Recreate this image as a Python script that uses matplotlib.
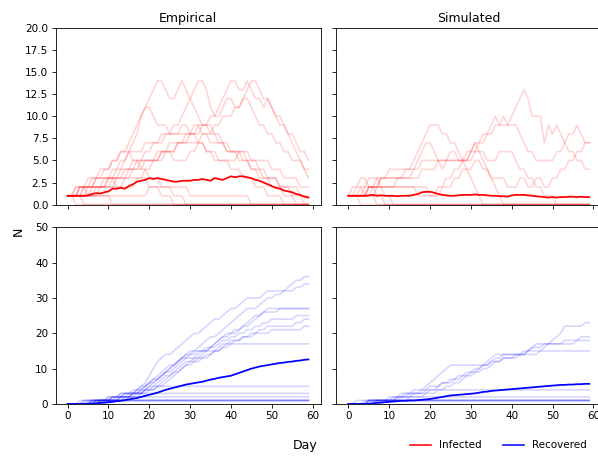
import matplotlib.pyplot as plt
from matplotlib.lines import Line2D
from matplotlib.ticker import MultipleLocator
import numpy as np

days = np.arange(60)

# --- infected, empirical runs (faint) ---
emp_inf_runs = [
    [1,1,1,1,2,2,2,3,3,3, 3,4,4,5,5,6,7,8,10,11, 12,13,14,14,13,12,12,13,14,13,
     12,11,10,9,9,8,8,7,7,6, 6,6,5,5,5,4,4,3,3,3, 2,2,2,1,1,1,0,0,0,0],
    [1,1,1,1,1,1,2,2,2,2, 3,3,3,3,4,4,5,5,5,6, 6,7,7,8,8,8,9,9,10,11,
     12,13,14,14,13,11,10,10,11,12, 12,11,11,12,12,11,10,9,9,8, 8,7,7,6,6,5,5,5,4,4],
    [1,1,1,1,1,2,2,2,2,2, 2,2,3,3,3,3,4,4,4,5, 5,5,6,6,6,7,7,7,7,8,
     8,8,9,9,9,10,10,11,12,13, 14,14,13,13,14,13,12,12,11,12, 11,10,9,9,8,7,6,5,4,3],
    [1,1,1,1,1,1,1,2,2,2, 2,3,3,3,3,4,4,4,5,5, 5,5,5,6,6,6,6,7,7,7,
     7,7,7,8,8,8,9,9,10,10, 10,11,11,12,13,14,14,13,12,12, 11,10,10,9,8,8,7,6,6,5],
    [1,1,2,2,2,2,3,3,3,4, 4,5,5,6,6,7,8,9,10,11, 11,10,9,9,9,8,8,8,9,9,
     8,8,7,7,6,6,6,5,5,5, 4,4,4,3,3,3,2,2,2,1, 1,1,1,0,0,0,0,0,0,0],
    [1,1,1,2,2,2,2,3,3,3, 3,3,4,4,5,6,6,6,6,7, 7,7,7,7,8,8,8,8,8,8,
     8,9,9,8,8,7,7,7,7,6, 6,6,6,6,6,5,5,5,5,5, 4,4,4,3,3,3,3,2,2,2],
    [1,1,1,1,2,2,2,2,2,2, 3,3,3,4,4,4,4,5,5,5, 5,5,5,6,6,6,5,5,5,5,
     6,6,7,7,6,6,5,5,5,5, 5,5,6,6,5,5,5,4,4,3, 3,3,2,2,2,1,1,1,0,0],
    [1,1,1,1,1,1,1,1,2,2, 2,2,2,2,3,3,3,3,3,4, 4,5,5,5,6,6,6,7,7,7,
     8,8,8,9,9,9,8,8,7,7, 6,6,6,5,5,4,4,4,3,3, 3,3,2,2,2,2,2,1,1,1],
    [1,1,1,2,2,2,2,2,2,3, 3,3,2,2,2,2,2,3,3,3, 2,2,2,1,1,1,0,0,0,0,
     0,0,0,0,0,0,0,0,0,0, 0,0,0,0,0,0,0,0,0,0, 0,0,0,0,0,0,0,0,0,0],
    [1,1,1,2,2,3,3,3,4,4, 4,5,5,6,6,6,5,5,4,4, 3,3,3,2,2,2,1,1,1,0,
     0,0,0,0,0,0,0,0,0,0, 0,0,0,0,0,0,0,0,0,0, 0,0,0,0,0,0,0,0,0,0],
    [1,1,1,1,1,1,1,1,1,1, 1,1,1,1,1,1,1,1,1,1, 2,2,2,2,2,2,2,2,2,2,
     1,1,1,1,1,1,1,1,1,1, 1,1,1,1,1,0,0,0,0,0, 0,0,0,0,0,0,0,0,0,0],
    [1,1,2,2,2,1,1,1,1,1, 1,0,0,0,0,0,0,0,0,0, 0,0,0,0,0,0,0,0,0,0,
     0,0,0,0,0,0,0,0,0,0, 0,0,0,0,0,0,0,0,0,0, 0,0,0,0,0,0,0,0,0,0],
    [1,1,1,1,0,0,0,0,0,0, 0,0,0,0,0,0,0,0,0,0, 0,0,0,0,0,0,0,0,0,0,
     0,0,0,0,0,0,0,0,0,0, 0,0,0,0,0,0,0,0,0,0, 0,0,0,0,0,0,0,0,0,0],
    [1,1,0,0,0,0,0,0,0,0, 0,0,0,0,0,0,0,0,0,0, 0,0,0,0,0,0,0,0,0,0,
     0,0,0,0,0,0,0,0,0,0, 0,0,0,0,0,0,0,0,0,0, 0,0,0,0,0,0,0,0,0,0],
]
emp_inf_mean = [1.0,1.0,1.0,1.0,1.0,1.05,1.2,1.3,1.25,1.4,
                1.5,1.8,1.8,1.9,1.8,2.1,2.3,2.6,2.7,2.8,
                3.0,2.9,3.0,2.9,2.8,2.7,2.6,2.6,2.7,2.7,
                2.7,2.8,2.8,2.9,2.8,2.7,3.0,2.9,2.8,3.0,
                3.2,3.1,3.2,3.2,3.1,3.0,2.8,2.7,2.5,2.3,
                2.1,1.9,1.8,1.6,1.5,1.4,1.2,1.1,0.9,0.8]

# --- infected, simulated runs (faint) ---
sim_inf_runs = [
    [1,1,1,1,1,1,2,2,2,2, 2,2,2,2,2,2,2,1,1,1, 1,1,2,2,3,3,4,4,5,5,
     6,7,7,8,8,9,10,9,10,9, 10,11,12,13,12,10,10,10,7,9, 8,9,8,7,6,6,5,5,4,4],
    [1,1,1,1,1,2,2,2,3,3, 3,3,3,3,3,3,3,3,4,4, 4,4,5,5,5,5,5,5,5,6,
     6,6,7,7,8,8,9,9,9,9, 9,9,8,7,6,6,5,5,5,5, 5,6,6,7,8,8,9,8,7,7],
    [1,1,1,1,1,2,2,3,2,2, 2,2,3,3,4,4,5,6,7,8, 9,9,9,8,8,7,7,6,5,4,
     3,2,1,0,0,0,0,0,0,0, 0,0,0,0,0,0,0,0,0,0, 0,0,0,0,0,0,0,0,0,0],
    [1,1,1,2,2,3,3,3,3,3, 3,3,3,3,3,3,4,5,6,7, 7,6,5,4,5,6,6,5,5,5,
     6,7,6,5,4,3,2,1,0,0, 0,0,0,0,0,0,0,0,0,0, 0,0,0,0,0,0,0,0,0,0],
    [1,1,1,1,1,2,2,2,3,3, 4,4,4,4,4,4,4,4,5,5, 5,5,5,5,5,5,5,5,5,5,
     5,6,6,6,5,5,5,6,6,6, 6,5,4,4,3,3,2,2,1,1, 1,0,0,0,0,0,0,0,0,0],
    [1,1,1,1,2,2,2,2,2,2, 2,2,2,2,2,2,2,2,2,2, 1,1,1,2,2,2,3,3,4,4,
     4,5,5,4,4,3,3,3,3,2, 2,2,3,3,2,2,3,3,2,2, 3,3,4,4,5,5,6,6,7,7],
    [1,1,2,2,1,1,1,2,2,1, 1,0,0,0,0,0,0,0,0,0, 0,0,0,0,0,0,0,0,0,0,
     0,0,0,0,0,0,0,0,0,0, 0,0,0,0,0,0,0,0,0,0, 0,0,0,0,0,0,0,0,0,0],
    [1,2,2,3,3,2,2,1,1,0, 0,0,0,0,0,0,0,0,0,0, 0,0,0,0,0,0,0,0,0,0,
     0,0,0,0,0,0,0,0,0,0, 0,0,0,0,0,0,0,0,0,0, 0,0,0,0,0,0,0,0,0,0],
    [1,1,1,1,1,1,1,0,0,0, 0,0,0,0,0,0,0,0,0,0, 0,0,0,0,0,0,0,0,0,0,
     0,0,0,0,0,0,0,0,0,0, 0,0,0,0,0,0,0,0,0,0, 0,0,0,0,0,0,0,0,0,0],
    [1,1,1,0,0,0,0,0,0,0, 0,0,0,0,0,0,0,0,0,0, 0,0,0,0,0,0,0,0,0,0,
     0,0,0,0,0,0,0,0,0,0, 0,0,0,0,0,0,0,0,0,0, 0,0,0,0,0,0,0,0,0,0],
]
sim_inf_mean = [1.0,1.0,1.0,1.0,1.0,1.05,1.1,1.0,1.05,1.0,
                1.0,1.0,0.95,1.0,1.0,1.0,1.1,1.2,1.4,1.45,
                1.45,1.35,1.2,1.1,1.05,1.0,1.0,1.05,1.1,1.1,
                1.1,1.15,1.1,1.1,1.05,1.0,1.0,0.95,0.95,0.9,
                1.05,1.1,1.1,1.1,1.05,1.0,0.95,0.9,0.85,0.8,
                0.85,0.8,0.85,0.85,0.9,0.9,0.85,0.9,0.85,0.85]

# --- recovered, empirical runs (faint) ---
emp_rec_runs = [
    [0,0,0,0,1,1,1,1,1,1, 2,2,2,3,3,3,3,4,5,6, 8,10,12,13,14,14,15,16,17,18,
     19,20,20,21,22,23,24,24,25,26, 27,27,28,29,30,30,30,30,31,32, 32,32,32,32,33,34,35,35,36,36],
    [0,0,0,0,0,0,1,1,1,1, 1,2,2,2,2,3,3,3,4,5, 6,7,8,9,10,11,11,12,13,14,
     14,15,16,17,18,19,19,20,21,22, 23,24,25,26,27,27,27,28,29,30, 30,31,31,32,32,32,33,33,34,34],
    [0,0,0,0,0,0,0,1,1,1, 1,1,2,2,3,3,4,4,5,5, 6,7,7,8,9,9,10,11,12,13,
     14,14,15,15,16,16,17,18,19,20, 20,21,21,22,22,23,24,25,26,27, 27,27,27,27,27,27,27,27,27,27],
    [0,0,0,0,0,1,1,1,1,1, 2,2,2,3,3,3,3,4,4,5, 6,6,7,8,9,10,11,12,13,13,
     13,13,14,15,15,16,17,18,19,19, 20,20,21,22,23,24,25,25,26,26, 26,26,27,27,27,27,27,27,27,27],
    [0,0,0,0,0,0,0,0,1,1, 1,1,1,1,2,2,2,3,3,4, 4,5,5,6,7,8,9,10,11,12,
     12,13,13,14,15,16,16,17,18,18, 19,19,20,20,21,21,22,22,23,23, 24,24,24,24,24,24,25,25,25,25],
    [0,0,0,0,0,0,0,1,1,1, 1,1,1,2,2,2,3,3,3,4, 5,5,6,7,8,8,9,9,10,11,
     11,12,12,13,13,14,15,16,17,17, 18,18,18,19,19,20,20,21,21,22, 22,22,22,22,22,22,23,23,24,24],
    [0,0,0,0,0,0,0,0,0,0, 1,1,1,1,1,2,2,2,3,3, 4,4,5,5,6,7,8,9,10,11,
     12,12,13,13,14,14,15,15,16,17, 17,18,18,19,19,19,20,20,20,20, 21,21,21,21,21,21,21,21,22,22],
    [0,0,0,0,0,0,1,1,1,1, 1,2,2,2,3,3,3,3,4,4, 5,6,7,8,9,10,11,12,13,14,
     15,15,15,15,15,15,15,15,16,16, 17,17,17,17,17,17,17,17,17,17, 17,17,17,17,17,17,17,17,17,17],
    [0,0,0,0,0,0,0,0,1,1, 1,1,1,2,2,2,3,3,3,4, 4,4,5,5,5,5,5,5,5,5,
     5,5,5,5,5,5,5,5,5,5, 5,5,5,5,5,5,5,5,5,5, 5,5,5,5,5,5,5,5,5,5],
    [0,0,0,0,0,0,0,0,1,1, 1,1,1,2,2,2,3,3,3,3, 3,3,3,3,3,3,3,3,3,3,
     3,3,3,3,3,3,3,3,3,3, 3,3,3,3,3,3,3,3,3,3, 3,3,3,3,3,3,3,3,3,3],
    [0,0,0,0,0,0,1,1,1,1, 1,2,2,2,2,2,2,2,2,2, 2,2,2,2,2,2,2,2,2,2,
     2,2,2,2,2,2,2,2,2,2, 2,2,2,2,2,2,2,2,2,2, 2,2,2,2,2,2,2,2,2,2],
    [0,0,0,0,1,1,1,1,1,1, 1,1,1,1,1,1,1,1,1,1, 1,1,1,1,1,1,1,1,1,1,
     1,1,1,1,1,1,1,1,1,1, 1,1,1,1,1,1,1,1,1,1, 1,1,1,1,1,1,1,1,1,1],
    [0,0,0,0,0,0,0,1,1,1, 1,1,1,1,1,1,1,1,1,1, 1,1,1,1,1,1,1,1,1,1,
     1,1,1,1,1,1,1,1,1,1, 1,1,1,1,1,1,1,1,1,1, 1,1,1,1,1,1,1,1,1,1],
    [0,0,0,0,0,0,0,0,0,0, 1,1,1,1,1,1,1,1,1,1, 1,1,1,1,1,1,1,1,1,1,
     1,1,1,1,1,1,1,1,1,1, 1,1,1,1,1,1,1,1,1,1, 1,1,1,1,1,1,1,1,1,1],
    [0,0,0,1,1,1,1,1,1,1, 1,1,1,1,1,1,1,1,1,1, 1,1,1,1,1,1,1,1,1,1,
     1,1,1,1,1,1,1,1,1,1, 1,1,1,1,1,1,1,1,1,1, 1,1,1,1,1,1,1,1,1,1],
]
emp_rec_mean = [0,0,0,0,0.05,0.1,0.15,0.2,0.3,0.4,
                0.5,0.6,0.8,0.9,1.1,1.3,1.5,1.7,2.0,2.3,
                2.6,2.9,3.2,3.6,4.0,4.3,4.6,4.9,5.2,5.5,
                5.7,5.9,6.1,6.3,6.6,6.9,7.1,7.4,7.6,7.8,
                8.0,8.4,8.8,9.2,9.6,10.0,10.3,10.6,10.8,11.0,
                11.2,11.4,11.6,11.7,11.9,12.0,12.2,12.3,12.5,12.6]

# --- recovered, simulated runs (faint) ---
sim_rec_runs = [
    [0,0,0,0,0,1,1,1,1,1, 1,2,2,3,3,3,4,4,4,5, 6,7,8,9,10,11,11,11,11,11,
     11,11,11,11,12,13,14,14,14,14, 14,14,14,14,14,14,14,15,16,17, 18,19,20,22,22,22,22,22,23,23],
    [0,0,0,0,0,0,1,1,1,1, 1,1,2,2,2,2,3,3,3,3, 4,4,5,6,6,7,7,8,8,9,
     9,10,10,11,11,12,12,12,13,13, 13,13,14,14,15,16,17,17,17,17, 17,17,17,18,18,18,18,19,19,19],
    [0,0,0,0,0,0,0,1,1,1, 1,1,1,1,1,2,2,2,2,3, 3,3,4,4,5,5,6,6,7,8,
     8,9,9,10,10,11,12,12,13,13, 13,14,14,15,15,16,16,16,17,17, 17,17,17,17,17,17,18,18,18,18],
    [0,0,0,0,0,1,1,1,1,1, 1,1,2,2,2,3,3,3,4,4, 5,5,5,6,6,6,7,7,8,8,
     9,9,10,11,11,12,13,13,14,14, 14,14,14,14,15,15,15,15,15,15, 15,15,15,15,15,15,15,15,15,15],
    [0,0,0,0,0,1,1,1,1,1, 2,2,2,2,3,3,3,3,3,4, 4,4,4,4,4,4,4,4,4,4,
     4,4,4,4,4,4,4,4,4,4, 4,4,4,4,4,4,4,4,4,4, 4,4,4,4,4,4,4,4,4,4],
    [0,0,0,0,0,1,1,1,1,1, 1,1,1,2,2,2,2,2,2,2, 2,2,2,2,2,2,2,2,2,2,
     2,2,2,2,2,2,2,2,2,2, 2,2,2,2,2,2,2,2,2,2, 2,2,2,2,2,2,2,2,2,2],
    [0,0,0,0,1,1,1,1,1,1, 1,1,1,1,1,1,1,1,1,1, 1,1,1,1,1,1,1,1,1,1,
     1,1,1,1,1,1,1,1,1,1, 1,1,1,1,1,1,1,1,1,1, 1,1,1,1,1,1,1,1,1,1],
    [0,0,0,0,0,0,0,1,1,1, 1,1,1,1,1,1,1,1,1,1, 1,1,1,1,1,1,1,1,1,1,
     1,1,1,1,1,1,1,1,1,1, 1,1,1,1,1,1,1,1,1,1, 1,1,1,1,1,1,1,1,1,1],
    [0,0,0,0,0,0,0,0,0,1, 1,1,1,1,1,1,1,1,1,1, 1,1,1,1,1,1,1,1,1,1,
     1,1,1,1,1,1,1,1,1,1, 1,1,1,1,1,1,1,1,1,1, 1,1,1,1,1,1,1,1,1,1],
    [0,0,1,1,1,1,1,1,1,1, 1,1,1,1,1,1,1,1,1,1, 1,1,1,1,1,1,1,1,1,1,
     1,1,1,1,1,1,1,1,1,1, 1,1,1,1,1,1,1,1,1,1, 1,1,1,1,1,1,1,1,1,1],
]
sim_rec_mean = [0,0,0,0,0.05,0.1,0.2,0.3,0.4,0.5,
                0.6,0.7,0.8,0.9,0.9,1.0,1.0,1.1,1.2,1.3,
                1.4,1.6,1.8,2.0,2.2,2.4,2.5,2.6,2.7,2.8,
                2.9,3.0,3.2,3.4,3.5,3.7,3.8,3.9,4.0,4.1,
                4.2,4.3,4.4,4.5,4.6,4.7,4.8,4.9,5.0,5.1,
                5.2,5.3,5.4,5.4,5.5,5.5,5.6,5.6,5.7,5.7]

# the original was rendered at a lower dpi, so fonts look small
fig, axes = plt.subplots(2, 2, figsize=(598 / 75, 457 / 75), dpi=75, sharex='col', sharey='row')
fig.subplots_adjust(left=0.093, right=1.0055, bottom=0.116, top=0.939, wspace=0.06, hspace=0.128)

panels = [
    (axes[0, 0], emp_inf_runs, emp_inf_mean, 'red'),
    (axes[0, 1], sim_inf_runs, sim_inf_mean, 'red'),
    (axes[1, 0], emp_rec_runs, emp_rec_mean, 'blue'),
    (axes[1, 1], sim_rec_runs, sim_rec_mean, 'blue'),
]
for ax, runs, mean, c in panels:
    for run in runs:
        ax.plot(days, run, color=c, alpha=0.16, lw=1.6)
    ax.plot(days, mean, color=c, lw=1.7)

axes[0, 0].set_ylim(0, 20)
axes[0, 0].yaxis.set_major_locator(MultipleLocator(2.5))
axes[1, 0].set_ylim(0, 50)
axes[1, 0].yaxis.set_major_locator(MultipleLocator(10))
for ax in axes[1]:
    ax.xaxis.set_major_locator(MultipleLocator(10))

axes[0, 0].set_title('Empirical')
axes[0, 1].set_title('Simulated')

fig.supxlabel('Day', x=0.51)
fig.supylabel('N', y=0.494)

handles = [Line2D([], [], color='red', label='Infected'),
           Line2D([], [], color='blue', label='Recovered')]
fig.legend(handles=handles, loc='lower right', ncol=2, frameon=False,
           bbox_to_anchor=(0.997, -0.006))

fig.savefig('out.png', dpi=75)
